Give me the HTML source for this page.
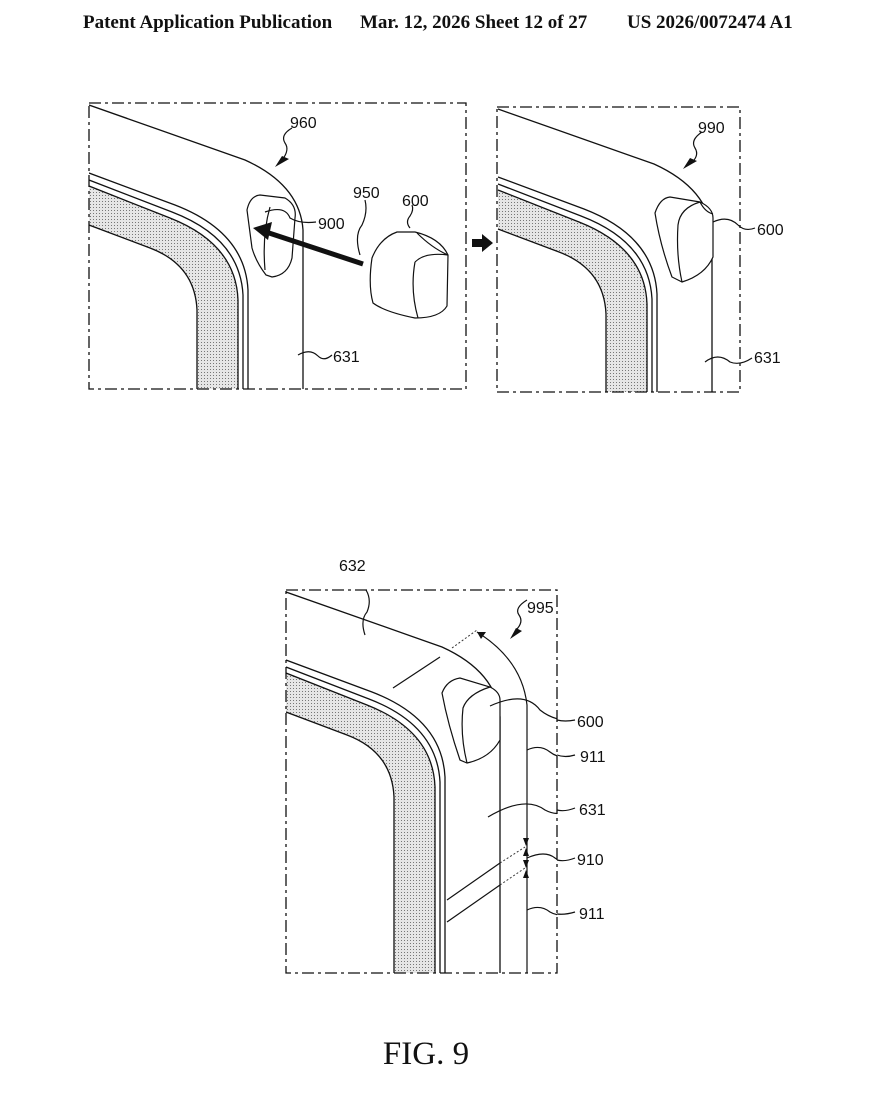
<!DOCTYPE html>
<html><head><meta charset="utf-8"><style>
html,body{margin:0;padding:0;background:#fff;}
svg{display:block;}
.h{font-family:"Liberation Serif",serif;font-weight:bold;font-size:19px;fill:#111;}
.l{font-family:"Liberation Sans",sans-serif;font-size:16px;fill:#111;}
</style></head><body>
<svg width="885" height="1107" viewBox="0 0 885 1107" xmlns="http://www.w3.org/2000/svg">
<defs>
<pattern id="dots" width="3" height="3" patternUnits="userSpaceOnUse">
<rect width="3" height="3" fill="#e6e6e6"/><rect width="1" height="1" fill="#777"/>
</pattern>
<g id="corner" fill="none" stroke="#111" stroke-width="1.3">
<path d="M89,186 L170,218 Q236,244 238,300 L238,500 L197,500 L197,310 Q195,265 150,248 L89,225 Z" fill="url(#dots)" stroke="none"/>
<path d="M89,105 L245,160 Q300,185 303,230 L303,500"/>
<path d="M89,173 L175,205 Q245,232 248,290 L248,500"/>
<path d="M89,180 L172,212 Q240,238 243,295 L243,500"/>
<path d="M89,186 L170,218 Q236,244 238,300 L238,500"/>
<path d="M89,225 L150,248 Q195,265 197,310 L197,500"/>
</g>
<clipPath id="c1"><rect x="89" y="103" width="377" height="286"/></clipPath>
<clipPath id="c2"><rect x="497" y="107" width="243" height="285"/></clipPath>
<clipPath id="c3"><rect x="286" y="590" width="271" height="383"/></clipPath>
</defs>
<rect width="885" height="1107" fill="#fff"/>
<text class="h" x="83" y="28">Patent Application Publication</text>
<text class="h" x="360" y="28">Mar. 12, 2026  Sheet 12 of 27</text>
<text class="h" x="627" y="28">US 2026/0072474 A1</text>

<!-- Panel 1 -->
<g clip-path="url(#c1)"><use href="#corner"/></g>
<rect x="89" y="103" width="377" height="286" fill="none" stroke="#111" stroke-width="1.3" stroke-dasharray="12,4,3,4"/>
<g fill="none" stroke="#111" stroke-width="1.2">
<path d="M247,210 Q250,196 260,195 L285,198 Q297,205 295,218 L292,258 Q288,275 272,277 L266,275 Q256,262 252,248 Z" fill="#fff"/>
<path d="M270,207 Q262,235 265,270"/>
<path d="M372,258 Q380,238 397,232 L415,232 Q440,238 448,255 L447,306 Q440,318 415,318 Q385,312 373,303 Q368,285 372,258 Z" fill="#fff"/>
<path d="M417,233 Q432,248 448,255 M415,262 Q410,290 418,318 M415,262 Q425,252 448,255"/>
<path d="M265,212 Q285,205 290,218 Q300,224 316,222"/>
<path d="M360,255 Q354,235 362,225 Q368,212 365,200"/>
<path d="M410,228 Q405,222 410,216 Q414,210 412,205"/>
<path d="M298,355 Q310,348 318,356 Q324,362 332,355"/>
<path d="M282,160 Q290,150 285,143 Q280,135 292,128"/>
</g>
<line x1="363" y1="264" x2="266" y2="232" stroke="#111" stroke-width="5"/>
<polygon points="253,228 272,222 268,240" fill="#111"/>
<polygon points="275,167 289,159 282,156" fill="#111"/>
<text class="l" x="290" y="128">960</text>
<text class="l" x="353" y="198">950</text>
<text class="l" x="402" y="206">600</text>
<text class="l" x="318" y="229">900</text>
<text class="l" x="333" y="362">631</text>
<polygon points="472,239 482,239 482,234 493,243 482,252 482,247 472,247" fill="#111"/>

<!-- Panel 2 -->
<g clip-path="url(#c2)"><use href="#corner" transform="translate(409,4)"/></g>
<rect x="497" y="107" width="243" height="285" fill="none" stroke="#111" stroke-width="1.3" stroke-dasharray="12,4,3,4"/>
<g fill="none" stroke="#111" stroke-width="1.2">
<path d="M655,213 Q660,198 670,197 L700,202 Q713,208 713,218 L713,257 Q705,275 682,282 L672,277 Q660,245 655,213 Z" fill="#fff"/>
<path d="M700,202 Q705,212 713,214 M700,202 Q680,208 678,225 Q676,255 682,282"/>
<path d="M713,222 Q728,215 738,225 Q745,232 755,228"/>
<path d="M705,362 Q718,352 730,362 Q740,366 752,358"/>
<path d="M690,164 Q700,156 695,148 Q690,140 702,132"/>
</g>
<polygon points="683,169 697,161 690,158" fill="#111"/>
<text class="l" x="698" y="133">990</text>
<text class="l" x="757" y="235">600</text>
<text class="l" x="754" y="363">631</text>

<!-- Panel 3 -->
<g clip-path="url(#c3)"><use href="#corner" transform="translate(197,487)"/>
<g fill="none" stroke="#111" stroke-width="1.2">
<path d="M477,632 Q522,660 527,705 L527,980"/>
<line x1="393" y1="688" x2="440" y2="657"/>
<line x1="447" y1="900" x2="500" y2="863"/>
<line x1="447" y1="922" x2="500" y2="885"/>
<path d="M442,693 Q447,680 460,678 L490,687 Q500,692 500,700 L500,740 Q490,758 467,763 L460,760 Q448,725 442,693 Z" fill="#fff"/>
<path d="M490,687 Q468,694 463,708 Q460,735 467,763"/>
<path d="M490,706 Q525,690 540,710 Q555,722 575,720"/>
<path d="M527,750 Q540,744 550,752 Q560,760 575,755"/>
<path d="M488,817 Q525,795 545,810 Q560,818 575,808"/>
<path d="M527,858 Q545,850 555,858 Q563,864 575,858"/>
<path d="M527,910 Q540,904 550,912 Q560,918 575,912"/>
<path d="M365,635 Q360,620 367,612 Q372,600 366,590"/>
<path d="M516,630 Q524,622 519,615 Q514,608 527,600"/>
</g>
<g stroke="#333" stroke-width="1" stroke-dasharray="2,2" fill="none">
<line x1="452" y1="648" x2="477" y2="630"/>
<line x1="500" y1="863" x2="525" y2="847"/>
<line x1="500" y1="885" x2="525" y2="868"/>
</g>
<polygon points="477,632 486,632 481,639" fill="#111"/>
<polygon points="510,639 522,631 516,628" fill="#111"/>
<polygon points="523,838 529,838 526,846" fill="#111"/>
<polygon points="523,856 529,856 526,848" fill="#111"/>
<polygon points="523,860 529,860 526,868" fill="#111"/>
<polygon points="523,878 529,878 526,870" fill="#111"/>
</g>
<g fill="none" stroke="#111" stroke-width="1.2">
<path d="M557,720 Q565,722 575,720"/>
<path d="M557,755 Q565,758 575,755"/>
<path d="M557,810 Q565,812 575,808"/>
<path d="M557,860 Q565,862 575,858"/>
<path d="M557,914 Q565,915 575,912"/>
</g>
<rect x="286" y="590" width="271" height="383" fill="none" stroke="#111" stroke-width="1.3" stroke-dasharray="12,4,3,4"/>
<text class="l" x="339" y="571">632</text>
<text class="l" x="527" y="613">995</text>
<text class="l" x="577" y="727">600</text>
<text class="l" x="580" y="762">911</text>
<text class="l" x="579" y="815">631</text>
<text class="l" x="577" y="865">910</text>
<text class="l" x="579" y="919">911</text>

<text x="426" y="1064" text-anchor="middle" font-family="Liberation Serif, serif" font-size="33" fill="#111">FIG. 9</text>
</svg>
</body></html>
